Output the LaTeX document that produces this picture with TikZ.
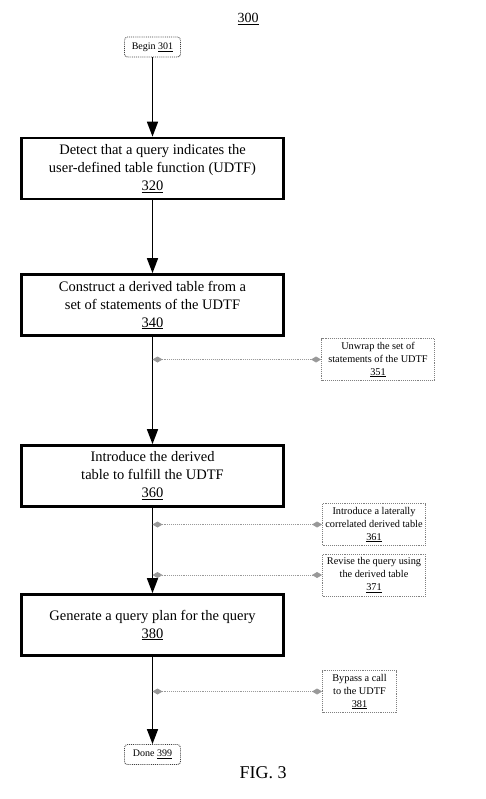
\documentclass[tikz,border=0pt]{standalone}
\usepackage{fontspec}
\setmainfont{Liberation Serif}
\usetikzlibrary{arrows.meta}

\begin{document}
\begin{tikzpicture}[x=1pt,y=-1pt,
    stepbox/.style={draw,line width=2.7pt,minimum width=262pt,minimum height=61pt,
        align=center,inner sep=0pt,font=\fontsize{14.5}{18}\selectfont},
    sidebox/.style={draw=gray,densely dotted,line width=0.9pt,minimum height=42pt,
        align=center,inner sep=1pt,font=\fontsize{10.3}{13}\selectfont},
    endbox/.style={draw=darkgray,densely dotted,rounded corners=3pt,line width=0.9pt,
        minimum width=56pt,minimum height=20pt,font=\fontsize{10}{12}\selectfont},
    flow/.style={line width=1.6pt,-{Triangle[width=11pt,length=15pt]}},
    link/.style={gray!80,densely dotted,line width=0.9pt,
        {Diamond[width=6pt,length=10pt]}-{Diamond[width=6pt,length=10pt]}}]
    \useasboundingbox (0,0) rectangle (486,799);

    % Title
    \node[font=\fontsize{14}{16}\selectfont] (t300) at (248,19) {\underline{300}};

    % Main steps
    \node[endbox] (begin) at (152.5,47) {Begin \underline{301}};
    \node[stepbox] (b320) at (152.5,168.5) {Detect that a query indicates the\\user-defined table function (UDTF)\\\underline{320}};
    \node[stepbox] (b340) at (152.5,305) {Construct a derived table from a\\set of statements of the UDTF\\\underline{340}};
    \node[stepbox] (b360) at (152.5,476) {Introduce the derived\\table to fulfill the UDTF\\\underline{360}};
    \node[stepbox] (b380) at (152.5,625) {Generate a query plan for the query\\\underline{380}};
    \node[endbox] (done) at (152.5,754.5) {Done \underline{399}};

    % Side steps
    \node[sidebox,minimum width=113pt] (s351) at (378,359.5) {Unwrap the set of\\statements of the UDTF\\\underline{351}};
    \node[sidebox,minimum width=103pt] (s361) at (374,524.5) {Introduce a laterally\\correlated derived table\\\underline{361}};
    \node[sidebox,minimum width=103pt] (s371) at (374,575) {Revise the query using\\the derived table\\\underline{371}};
    \node[sidebox,minimum width=74pt] (s381) at (359.5,691.5) {Bypass a call\\to the UDTF\\\underline{381}};

    % Flow
    \draw[flow] (begin) -- (b320);
    \draw[flow] (b320) -- (b340);
    \draw[flow] (b340) -- (b360);
    \draw[flow] (b360) -- (b380);
    \draw[flow] (b380) -- (done);

    % Links to side steps
    \coordinate (j351) at (b340.south |- s351.west);
    \coordinate (j361) at (b360.south |- s361.west);
    \coordinate (j371) at (b360.south |- s371.west);
    \coordinate (j381) at (b380.south |- s381.west);
    \draw[link] (j351) -- (s351);
    \draw[link] (j361) -- (s361);
    \draw[link] (j371) -- (s371);
    \draw[link] (j381) -- (s381);

    \node[font=\fontsize{18}{20}\selectfont] (fig) at (263,773) {FIG. 3};
\end{tikzpicture}
\end{document}
